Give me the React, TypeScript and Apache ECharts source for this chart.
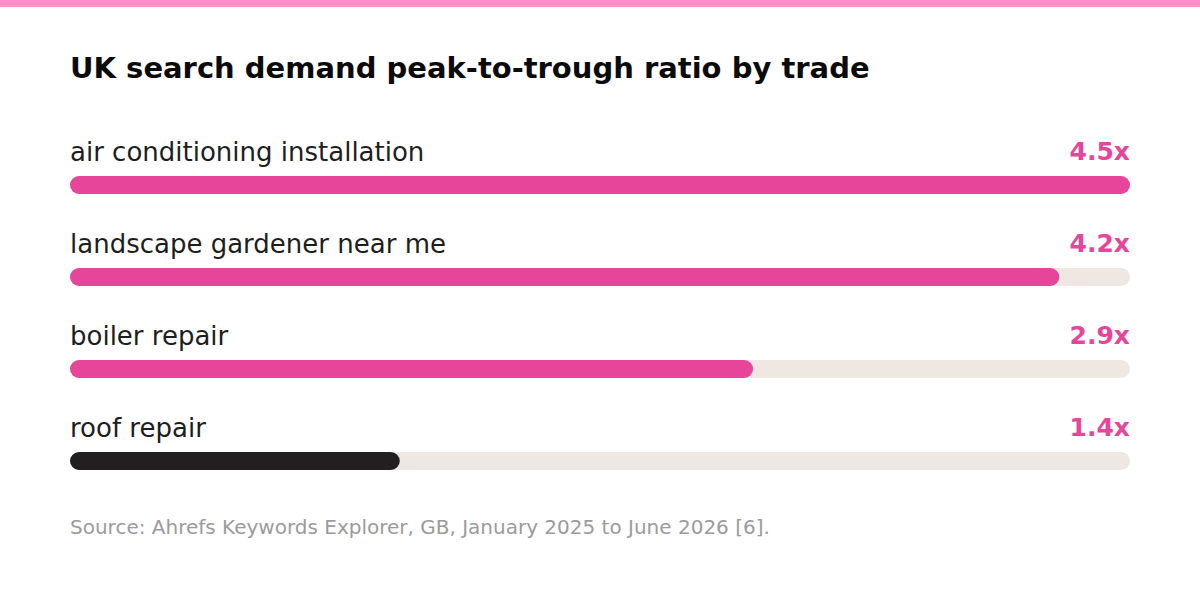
import { useEffect, useRef } from 'react';
import * as echarts from 'echarts';

const trades = [
  'air conditioning installation',
  'landscape gardener near me',
  'boiler repair',
  'roof repair',
];
const ratios = [4.5, 4.2, 2.9, 1.4];
const barColors = ['#e6459a', '#e6459a', '#e6459a', '#231f20'];
const maxRatio = 4.5;

const FONT = '"DejaVu Sans", Inter, sans-serif';

function App() {
  const chartRef = useRef(null);

  useEffect(() => {
    const myChart = echarts.init(chartRef.current, null, { renderer: 'svg' });

    const option = {
      animation: false,
      backgroundColor: '#ffffff',
      title: [
        {
          text: 'UK search demand peak-to-trough ratio by trade',
          left: 65,
          top: 48,
          textStyle: {
            fontFamily: FONT,
            fontSize: 29,
            fontWeight: 700,
            color: '#0b0b0b',
          },
        },
        {
          text: 'Source: Ahrefs Keywords Explorer, GB, January 2025 to June 2026 [6].',
          left: 65,
          top: 512,
          textStyle: {
            fontFamily: FONT,
            fontSize: 20,
            fontWeight: 400,
            color: '#9b9b9b',
          },
        },
      ],
      graphic: [
        {
          type: 'rect',
          shape: { x: 0, y: 0, width: 1200, height: 7 },
          style: { fill: '#ff8fc8' },
        },
      ],
      grid: {
        left: 70,
        right: 70,
        top: 139,
        height: 368,
      },
      xAxis: {
        type: 'value',
        min: 0,
        max: maxRatio,
        show: false,
      },
      yAxis: {
        type: 'category',
        data: trades,
        inverse: true,
        show: false,
      },
      series: [
        {
          name: 'track',
          type: 'bar',
          barWidth: 18,
          data: trades.map(() => maxRatio),
          itemStyle: { color: '#efe8e2', borderRadius: 9 },
          label: {
            show: true,
            position: ['100%', -25],
            align: 'right',
            verticalAlign: 'middle',
            formatter: (p: any) => ratios[p.dataIndex].toFixed(1) + 'x',
            fontFamily: FONT,
            fontSize: 25,
            fontWeight: 700,
            color: '#e6459a',
          },
          silent: true,
        },
        {
          name: 'ratio',
          type: 'bar',
          barWidth: 18,
          barGap: '-100%',
          data: ratios.map((v, i) => ({
            value: v,
            itemStyle: { color: barColors[i] },
          })),
          itemStyle: { borderRadius: 9 },
          label: {
            show: true,
            position: [0, -24],
            align: 'left',
            verticalAlign: 'middle',
            formatter: (p: any) => trades[p.dataIndex],
            fontFamily: FONT,
            fontSize: 26,
            fontWeight: 400,
            color: '#1e1e1e',
          },
        },
      ],
    };

    myChart.setOption(option);

    return () => {
      myChart.dispose();
    };
  }, []);

  return (
    <div
      ref={chartRef}
      style={{ position: 'fixed', left: 0, top: 0, width: '1200px', height: '609px' }}
    ></div>
  );
}

export default App;
